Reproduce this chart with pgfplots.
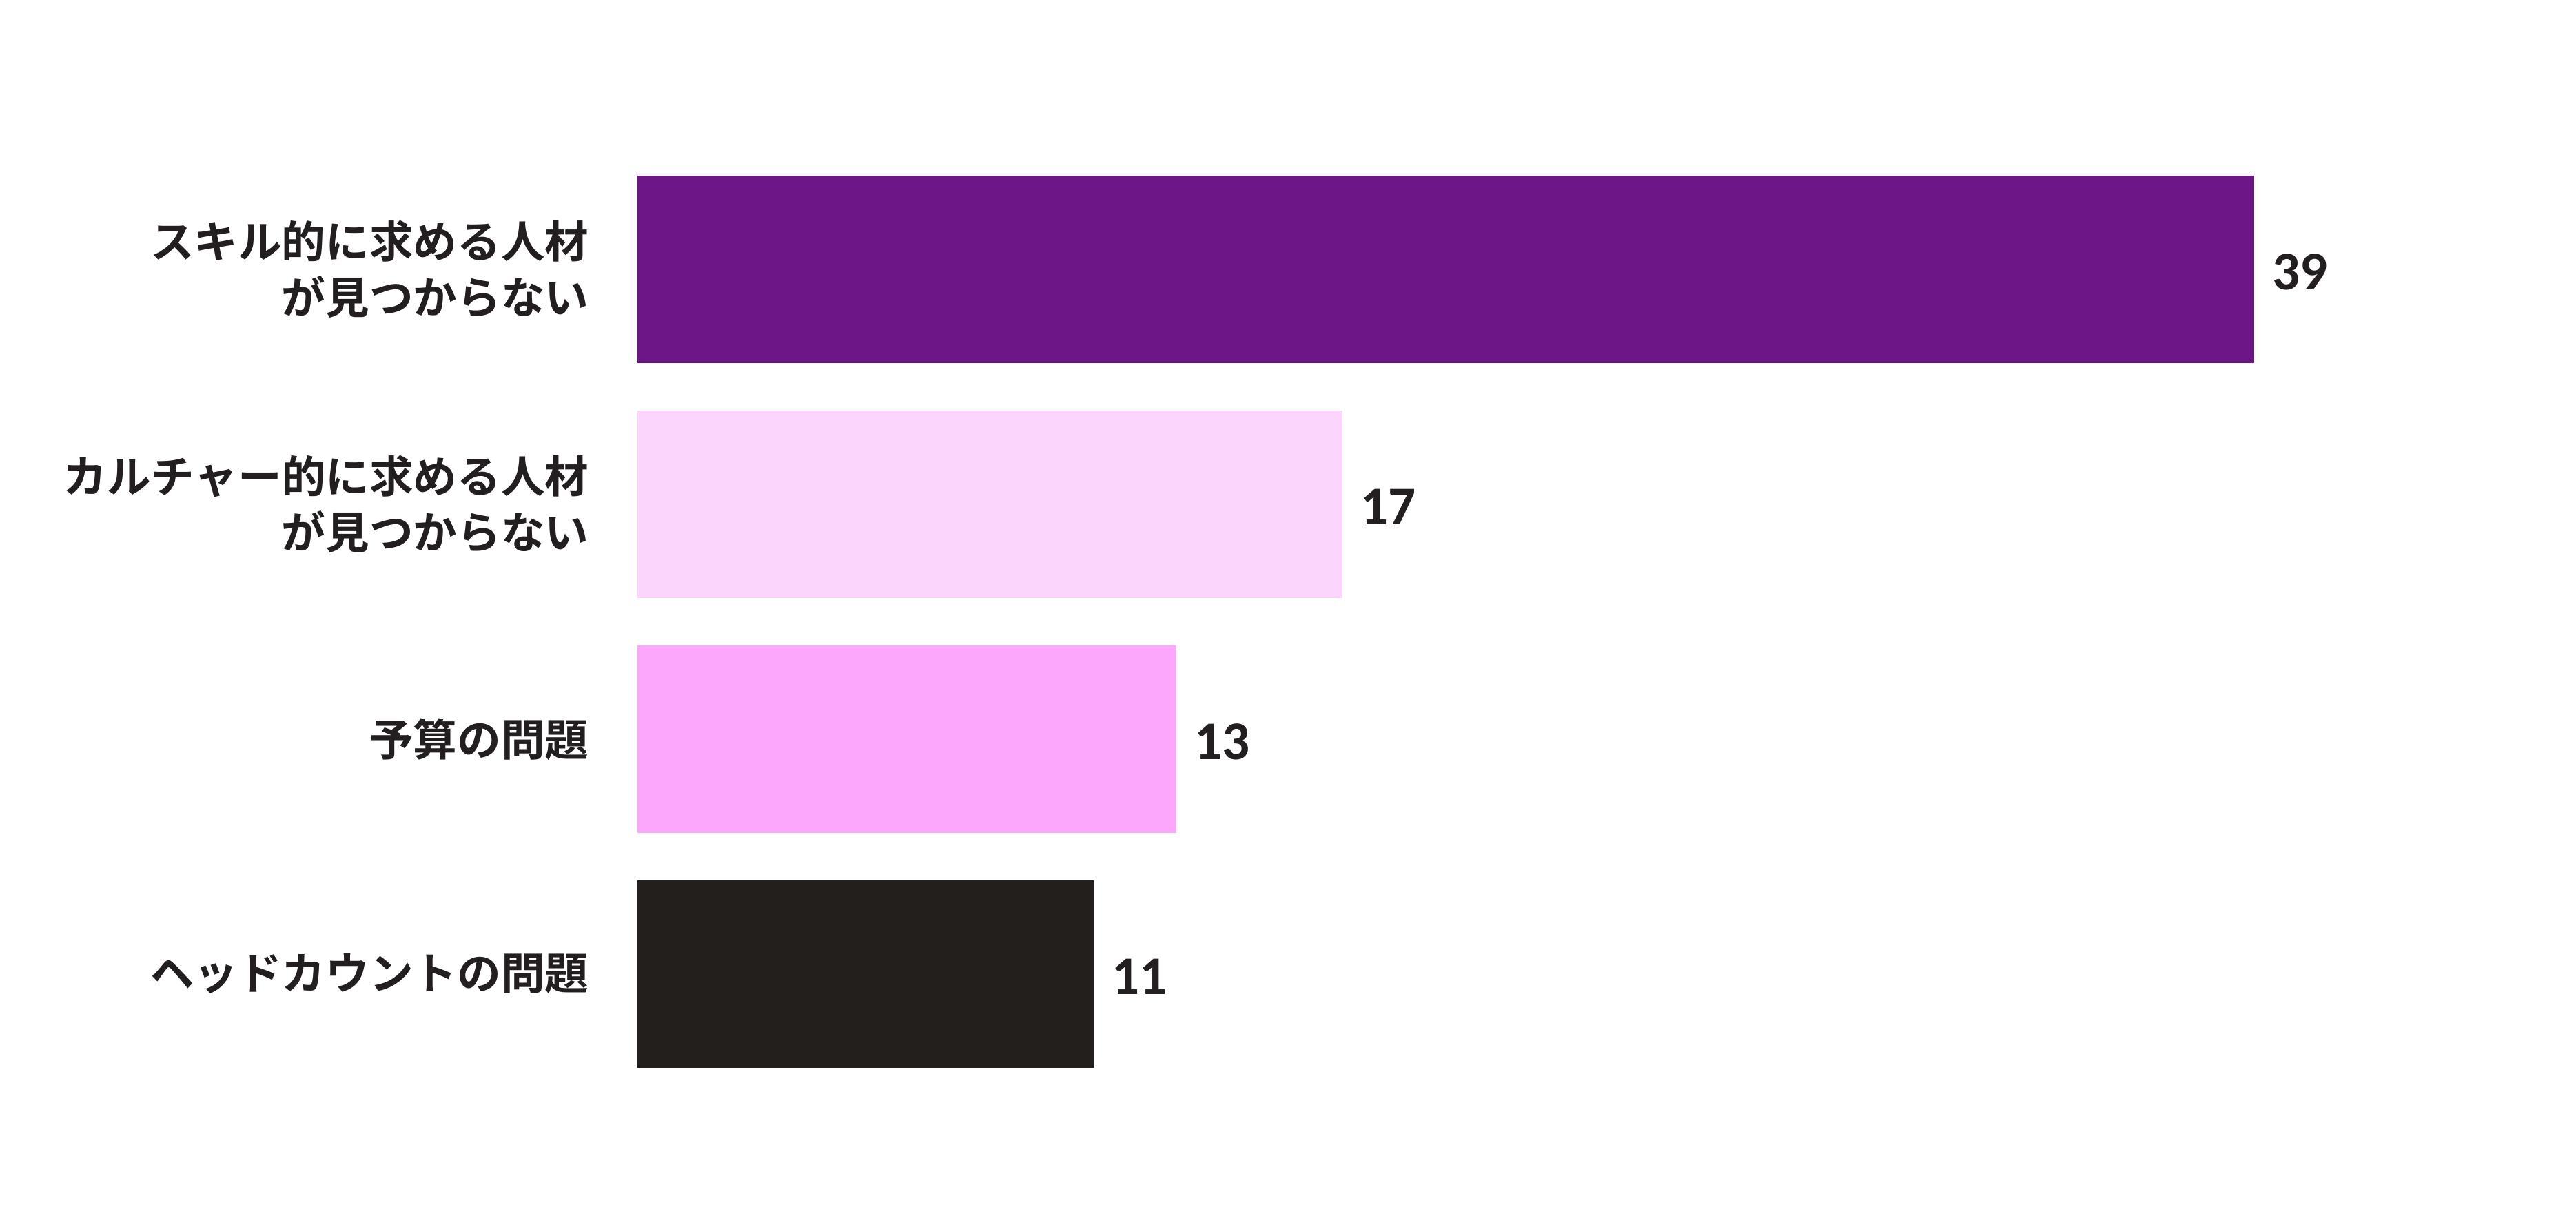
\documentclass[border=0pt]{standalone}
\usepackage{fontspec}
\setmainfont{Carlito}
\newfontfamily\jp{Noto Sans CJK JP}[BoldFont=* Bold]
\usepackage{pgfplots}
\pgfplotsset{compat=1.18}
\definecolor{c1}{RGB}{108,22,135}
\definecolor{c2}{RGB}{252,213,252}
\definecolor{c3}{RGB}{252,166,252}
\definecolor{c4}{RGB}{35,31,28}
\definecolor{txt}{RGB}{35,31,32}
\begin{document}
\begin{tikzpicture}
\path[use as bounding box] (-92.5mm,-17.05mm) rectangle (281.3mm,158.45mm);
\begin{axis}[
  at={(0,0)}, anchor=south west,
  scale only axis,
  width=234.6mm, height=136.4mm,
  xmin=0, xmax=39,
  ymin=-0.5, ymax=3.5,
  y dir=reverse,
  /pgf/number format/assume math mode=true,
  xbar, bar width=27.2mm, bar shift=0pt,
  axis line style={draw=none},
  xtick=\empty,
  ytick={0,1,2,3},
  yticklabels={{スキル的に求める人材\\が見つからない},{カルチャー的に求める人材\\が見つからない},{予算の問題},{ヘッドカウントの問題}},
  ytick style={draw=none},
  yticklabel style={anchor=east, align=right, inner sep=0pt, xshift=-5.5mm, text=txt,
    font=\jp\bfseries\fontsize{18.1pt}{23pt}\selectfont},
  nodes near coords,
  nodes near coords style={anchor=west, inner sep=0pt, xshift=2.6mm, yshift=-0.4mm, text=txt,
    font=\bfseries\fontsize{22.5pt}{25pt}\selectfont},
  clip=false,
]
\addplot[fill=c1, draw=none] coordinates {(39,0)};
\addplot[fill=c2, draw=none] coordinates {(17,1)};
\addplot[fill=c3, draw=none] coordinates {(13,2)};
\addplot[fill=c4, draw=none] coordinates {(11,3)};
\end{axis}
\end{tikzpicture}
\end{document}
